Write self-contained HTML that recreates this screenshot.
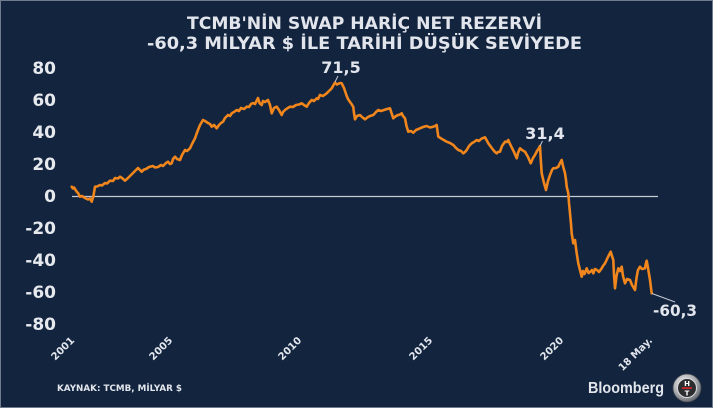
<!DOCTYPE html>
<html><head><meta charset="utf-8">
<style>
html,body{margin:0;padding:0;background:#13243f;}
svg{display:block;}
</style></head>
<body>
<svg width="713" height="408" viewBox="0 0 713 408" xmlns="http://www.w3.org/2000/svg">
<defs>
<radialGradient id="rg" cx="40%" cy="35%" r="70%">
<stop offset="0" stop-color="#f4f4f4"/><stop offset="0.6" stop-color="#a9acb0"/><stop offset="1" stop-color="#5d6168"/>
</radialGradient>
</defs>
<rect x="0" y="0" width="713" height="408" fill="#13243f"/>
<rect x="0.5" y="0.5" width="712" height="407" fill="none" stroke="#6f7c90" stroke-width="1"/>
<g font-family="'DejaVu Sans', 'Liberation Sans', sans-serif" font-weight="bold" fill="#e2e6ec">
<text x="364.5" y="29" font-size="16.5" text-anchor="middle" textLength="355" lengthAdjust="spacingAndGlyphs">TCMB'NİN SWAP HARİÇ NET REZERVİ</text>
<text x="364.5" y="49" font-size="16.5" text-anchor="middle" textLength="435" lengthAdjust="spacingAndGlyphs">-60,3 MİLYAR $ İLE TARİHİ DÜŞÜK SEVİYEDE</text>
<g font-size="17" text-anchor="end" fill="#e6e9ee">
<text x="56" y="74">80</text>
<text x="56" y="106">60</text>
<text x="56" y="138">40</text>
<text x="56" y="170">20</text>
<text x="56" y="202">0</text>
<text x="56" y="234">-20</text>
<text x="56" y="266">-40</text>
<text x="56" y="298">-60</text>
<text x="56" y="330">-80</text>
</g>
<g font-size="10" text-anchor="end" fill="#e2e6ec">
<text transform="translate(75,341) rotate(-45)">2001</text>
<text transform="translate(173,341) rotate(-45)">2005</text>
<text transform="translate(302,341) rotate(-45)">2010</text>
<text transform="translate(433,341) rotate(-45)">2015</text>
<text transform="translate(564,341) rotate(-45)">2020</text>
<text transform="translate(653,341) rotate(-45)">18 May.</text>
</g>
<text x="57" y="391" font-size="9" textLength="125" lengthAdjust="spacingAndGlyphs">KAYNAK: TCMB, MİLYAR $</text>
<text x="341" y="73" font-size="16" text-anchor="middle">71,5</text>
<text x="545" y="139" font-size="16" text-anchor="middle">31,4</text>
<text x="653" y="316" font-size="16" textLength="44" lengthAdjust="spacingAndGlyphs">-60,3</text>
</g>
<line x1="72" y1="196.5" x2="658" y2="196.5" stroke="#c5cad3" stroke-width="1.2"/>
<polyline fill="none" stroke="#f0861c" stroke-width="2.6" stroke-linejoin="round" stroke-linecap="round" points="
71.7,186.7 73,188.5 74,187.5 76.7,191.7 78,193 80,196.7 82,196 85,198 88,199.5 90,198.5 91.7,201.7 92.5,199 93.3,196.7 95,186.7 97,186.5 100,185 102,185.5 105,183 107,183.5 110,180.7 113,181 115,178 118,178.5 120,176.7 122,178 125,180.7 128,178 130,176 132,174 134,172 136,170 138,168 140,170 141.7,171.7 144,169.5 146,169 149,167 153,166 155,167.5 158,167 161,165 163,166 166,163 168,161.7 170,164 171.7,163.3 173,159 175,156.7 177,159 180,160 182,155 185,150 187,151 190,148.3 192,144 195,138.3 196.5,134 198,130 200,125 203,120 205,121 208,123 210,124 211.7,126.7 214,125 216.7,128.3 219,125 221,123 223,121.7 225,118 228,115 230,116 232,113 234,112 236.7,110 239,111 241,108 244,109 246.7,106.7 249,107 251,104 253,103 255,104 257,100 258,98 259.5,103 261.7,105 263,101 265,102 268,100 270,105 271.7,113.3 274,108 276.7,106.7 279,110 281.7,115 283,112 285,110 287,108.5 290,106.7 293,107 296,105 299,104.5 301.7,103.3 304,105 306.7,106.7 309,103 311.7,100 314,101 316.7,98.3 318,99 320,95 323,96 326.7,93.3 329,91 331.7,88.3 333,86 335,82.7 337,84.5 338,84 340,83 341.7,83.3 344,88 346.7,96 348,99 350,102 351.5,104 353.3,107 354,113 355,119.3 357,116 360,115 362,117 365,119.3 368,117 370,116 373.3,115 376,112 378.3,110 381,111 384,110 387,109 390,108.3 391.5,113 393.3,118.3 396,116 398.3,115 400,114.5 401.7,113.3 403,116 405,118.3 406.5,126 408.3,131.7 411,131 413.3,132.7 416,130 420,128.3 423,127 426.7,126 430,127.5 433.3,126.7 435,126 436.7,125 437.5,131 438.3,136.7 442,139 446.7,141.7 450,143 453.3,145 456,148 458.3,150 461,151 463.3,153.3 465,152 466.7,150 469,146 471.7,143.3 474,142 476.7,140 479,141 481,139 483,138 485,137.3 486.5,140 488.3,143.3 491,147 493.3,150 495,152 496.7,153.3 498,152 500,151.7 502,146 505,141.7 507,142 508.3,140 510,144 511.7,147.3 514,152 516.7,158.3 518,153 520,148.3 522,150 525,151.7 528,157 530.7,163.3 533,158 535,155 537,151 539,148 540,146 540.8,160 541.7,173.3 544,183 546,190 548,181 550,175 552,170 553.3,168.3 556,168 558.3,166.7 560,163 561.7,160 563,166 565,173.3 566,180 566.7,186.7 568.3,193.3 569,203 570,213.3 571,224 571.7,233.3 573.3,243.3 575,240 576.5,252 578.3,263.3 580,270 581.7,276.7 583,271 584.5,274 586.7,268.3 588.5,273 590,272 592,270 593.3,273.3 595,269 597,270 599,272 601.7,268.3 603,266 605,263.3 608,257 610.7,251.7 612,256 613.3,260 614,275 615,288.3 616.5,276 618.3,268.3 620,271 621.7,266.7 623,276 625,283.3 627,279 630,280 632,285 635,290 636,282 636.7,276.7 638,270 640,266.7 642,269 645,268.3 646,263 646.7,260.7 648,268 650,280 651,288 651.7,293.3"/>
<g stroke="#c5cad3" stroke-width="1" fill="none">
<line x1="335" y1="82" x2="338" y2="76"/>
<line x1="540" y1="146" x2="542.5" y2="141"/>
<line x1="652" y1="293.5" x2="675" y2="302"/>
</g>
<text x="588" y="393" font-family="'Liberation Sans', sans-serif" font-weight="bold" font-size="15.5" fill="#e2e6ec" textLength="76" lengthAdjust="spacingAndGlyphs">Bloomberg</text>
<circle cx="687" cy="388" r="14" fill="url(#rg)" stroke="#44484f" stroke-width="0.8"/>
<circle cx="687" cy="388" r="9.5" fill="#2b2d31" stroke="#d8d8d8" stroke-width="1"/>
<text x="687" y="386" font-family="'DejaVu Sans', sans-serif" font-weight="bold" font-size="7" fill="#ffffff" text-anchor="middle">H</text>
<rect x="682" y="387.3" width="10" height="1.6" fill="#d8262a"/>
<text x="687" y="395.5" font-family="'DejaVu Sans', sans-serif" font-weight="bold" font-size="7" fill="#ffffff" text-anchor="middle">T</text>
</svg>
</body></html>
